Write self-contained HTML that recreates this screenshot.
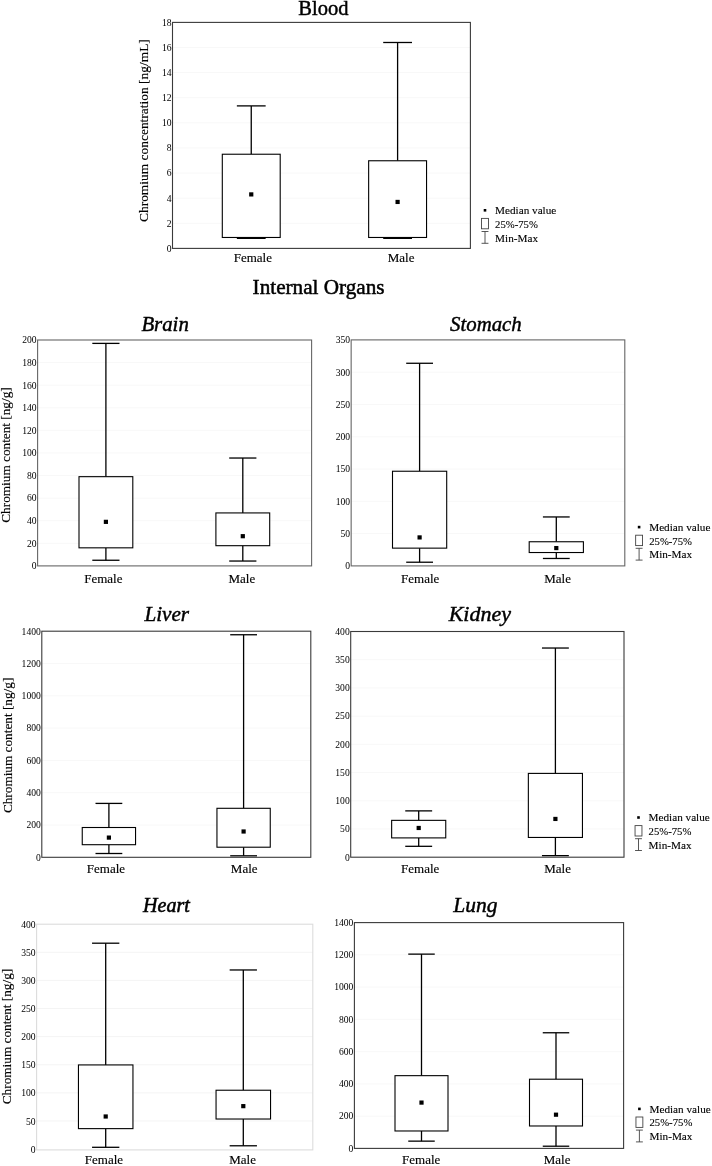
<!DOCTYPE html>
<html lang="en">
<head>
<meta charset="utf-8">
<title>Chromium in blood and internal organs</title>
<style>
html,body{margin:0;padding:0;background:#fff;}
svg{display:block;}
text{font-family:"Liberation Serif", serif;fill:#000;}
.tk{font-size:9.6px;text-anchor:end;}
.cat{font-size:13px;text-anchor:middle;stroke:#000;stroke-width:0.15px;}
.lg{font-size:11.2px;stroke:#000;stroke-width:0.12px;}
.yl{text-anchor:middle;stroke:#000;stroke-width:0.15px;}
.tt{text-anchor:middle;}
</style>
</head>
<body>
<svg width="712" height="1166" viewBox="0 0 712 1166">
<rect x="0" y="0" width="712" height="1166" fill="#fff"/>
<g id="blood">
<text class="tt" x="323.4" y="14.8" font-size="20.5" font-style="normal" stroke="#000" stroke-width="0.45">Blood</text>
<line x1="172.5" x2="470.4" y1="223.29" y2="223.29" stroke="#f8f8f8" stroke-width="1"/>
<line x1="172.5" x2="470.4" y1="198.18" y2="198.18" stroke="#f8f8f8" stroke-width="1"/>
<line x1="172.5" x2="470.4" y1="173.07" y2="173.07" stroke="#f8f8f8" stroke-width="1"/>
<line x1="172.5" x2="470.4" y1="147.96" y2="147.96" stroke="#f8f8f8" stroke-width="1"/>
<line x1="172.5" x2="470.4" y1="122.84" y2="122.84" stroke="#f8f8f8" stroke-width="1"/>
<line x1="172.5" x2="470.4" y1="97.73" y2="97.73" stroke="#f8f8f8" stroke-width="1"/>
<line x1="172.5" x2="470.4" y1="72.62" y2="72.62" stroke="#f8f8f8" stroke-width="1"/>
<line x1="172.5" x2="470.4" y1="47.51" y2="47.51" stroke="#f8f8f8" stroke-width="1"/>
<rect x="172.5" y="22.4" width="297.9" height="226" fill="none" stroke="#3a3a3a" stroke-width="1.1"/>
<text class="tk" x="171.5" y="251.75">0</text>
<text class="tk" x="171.5" y="226.64">2</text>
<text class="tk" x="171.5" y="201.53">4</text>
<text class="tk" x="171.5" y="176.42">6</text>
<text class="tk" x="171.5" y="151.31">8</text>
<text class="tk" x="171.5" y="126.19">10</text>
<text class="tk" x="171.5" y="101.08">12</text>
<text class="tk" x="171.5" y="75.97">14</text>
<text class="tk" x="171.5" y="50.86">16</text>
<text class="tk" x="171.5" y="25.75">18</text>
<text class="yl" font-size="13.45" transform="translate(148 130.6) rotate(-90)">Chromium concentration [ng/mL]</text>
<g stroke="#000" stroke-width="1.3" fill="none">
<line x1="251.25" x2="251.25" y1="105.89" y2="154.23"/>
<line x1="251.25" x2="251.25" y1="237.48" y2="238.36"/>
<line x1="236.85" x2="265.65" y1="105.89" y2="105.89"/>
<line x1="236.85" x2="265.65" y1="238.36" y2="238.36"/>
<rect x="222.3" y="154.23" width="57.9" height="83.24" fill="#fff" stroke-width="1.1"/>
</g>
<rect x="249.15" y="192.31" width="4.2" height="4.2" fill="#000"/>
<text class="cat" x="252.8" y="261.9">Female</text>
<g stroke="#000" stroke-width="1.3" fill="none">
<line x1="397.6" x2="397.6" y1="42.49" y2="160.76"/>
<line x1="397.6" x2="397.6" y1="237.48" y2="238.36"/>
<line x1="383.2" x2="412" y1="42.49" y2="42.49"/>
<line x1="383.2" x2="412" y1="238.36" y2="238.36"/>
<rect x="368.65" y="160.76" width="57.9" height="76.71" fill="#fff" stroke-width="1.1"/>
</g>
<rect x="395.5" y="199.84" width="4.2" height="4.2" fill="#000"/>
<text class="cat" x="401.1" y="261.9">Male</text>
<g class="legend">
<rect x="483.7" y="209" width="2.6" height="2.6" fill="#000"/>
<rect x="481.55" y="218.4" width="6.9" height="10.4" fill="#fff" stroke="#444" stroke-width="0.9"/>
<path d="M481.55 231.5h6.9M481.55 243.3h6.9M485 231.5v11.8" fill="none" stroke="#444" stroke-width="0.9"/>
<text class="lg" x="495.1" y="213.9">Median value</text>
<text class="lg" x="495.1" y="227.8" textLength="42.8" lengthAdjust="spacingAndGlyphs">25%-75%</text>
<text class="lg" x="495.1" y="241.5">Min-Max</text>
</g>
</g>
<g id="brain">
<text class="tt" x="165.1" y="330.5" font-size="20.8" font-style="italic" stroke="#000" stroke-width="0.45">Brain</text>
<line x1="37.6" x2="311.6" y1="543.31" y2="543.31" stroke="#f8f8f8" stroke-width="1"/>
<line x1="37.6" x2="311.6" y1="520.72" y2="520.72" stroke="#f8f8f8" stroke-width="1"/>
<line x1="37.6" x2="311.6" y1="498.13" y2="498.13" stroke="#f8f8f8" stroke-width="1"/>
<line x1="37.6" x2="311.6" y1="475.54" y2="475.54" stroke="#f8f8f8" stroke-width="1"/>
<line x1="37.6" x2="311.6" y1="452.95" y2="452.95" stroke="#f8f8f8" stroke-width="1"/>
<line x1="37.6" x2="311.6" y1="430.36" y2="430.36" stroke="#f8f8f8" stroke-width="1"/>
<line x1="37.6" x2="311.6" y1="407.77" y2="407.77" stroke="#f8f8f8" stroke-width="1"/>
<line x1="37.6" x2="311.6" y1="385.18" y2="385.18" stroke="#f8f8f8" stroke-width="1"/>
<line x1="37.6" x2="311.6" y1="362.59" y2="362.59" stroke="#f8f8f8" stroke-width="1"/>
<rect x="37.6" y="340" width="274" height="225.9" fill="none" stroke="#666" stroke-width="1.1"/>
<text class="tk" x="36.6" y="569.25">0</text>
<text class="tk" x="36.6" y="546.66">20</text>
<text class="tk" x="36.6" y="524.07">40</text>
<text class="tk" x="36.6" y="501.48">60</text>
<text class="tk" x="36.6" y="478.89">80</text>
<text class="tk" x="36.6" y="456.3">100</text>
<text class="tk" x="36.6" y="433.71">120</text>
<text class="tk" x="36.6" y="411.12">140</text>
<text class="tk" x="36.6" y="388.53">160</text>
<text class="tk" x="36.6" y="365.94">180</text>
<text class="tk" x="36.6" y="343.35">200</text>
<text class="yl" font-size="13.25" transform="translate(10 455) rotate(-90)">Chromium content [ng/g]</text>
<g stroke="#000" stroke-width="1.3" fill="none">
<line x1="105.9" x2="105.9" y1="343.39" y2="476.67"/>
<line x1="105.9" x2="105.9" y1="547.83" y2="560.25"/>
<line x1="92.3" x2="119.5" y1="343.39" y2="343.39"/>
<line x1="92.3" x2="119.5" y1="560.25" y2="560.25"/>
<rect x="79" y="476.67" width="53.8" height="71.16" fill="#fff" stroke-width="1.1"/>
</g>
<rect x="103.8" y="519.75" width="4.2" height="4.2" fill="#000"/>
<text class="cat" x="103.3" y="582.7">Female</text>
<g stroke="#000" stroke-width="1.3" fill="none">
<line x1="242.8" x2="242.8" y1="458.03" y2="512.93"/>
<line x1="242.8" x2="242.8" y1="545.68" y2="561.04"/>
<line x1="229.2" x2="256.4" y1="458.03" y2="458.03"/>
<line x1="229.2" x2="256.4" y1="561.04" y2="561.04"/>
<rect x="215.9" y="512.93" width="53.8" height="32.76" fill="#fff" stroke-width="1.1"/>
</g>
<rect x="240.7" y="534.09" width="4.2" height="4.2" fill="#000"/>
<text class="cat" x="241.9" y="582.7">Male</text>
</g>
<g id="stomach">
<text class="tt" x="485.9" y="330.5" font-size="20.8" font-style="italic" stroke="#000" stroke-width="0.45">Stomach</text>
<line x1="351.15" x2="624.8" y1="533.61" y2="533.61" stroke="#f8f8f8" stroke-width="1"/>
<line x1="351.15" x2="624.8" y1="501.33" y2="501.33" stroke="#f8f8f8" stroke-width="1"/>
<line x1="351.15" x2="624.8" y1="469.04" y2="469.04" stroke="#f8f8f8" stroke-width="1"/>
<line x1="351.15" x2="624.8" y1="436.76" y2="436.76" stroke="#f8f8f8" stroke-width="1"/>
<line x1="351.15" x2="624.8" y1="404.47" y2="404.47" stroke="#f8f8f8" stroke-width="1"/>
<line x1="351.15" x2="624.8" y1="372.19" y2="372.19" stroke="#f8f8f8" stroke-width="1"/>
<rect x="351.15" y="339.9" width="273.65" height="226" fill="none" stroke="#666" stroke-width="1.1"/>
<text class="tk" x="350.15" y="569.25">0</text>
<text class="tk" x="350.15" y="536.96">50</text>
<text class="tk" x="350.15" y="504.68">100</text>
<text class="tk" x="350.15" y="472.39">150</text>
<text class="tk" x="350.15" y="440.11">200</text>
<text class="tk" x="350.15" y="407.82">250</text>
<text class="tk" x="350.15" y="375.54">300</text>
<text class="tk" x="350.15" y="343.25">350</text>
<g stroke="#000" stroke-width="1.3" fill="none">
<line x1="419.6" x2="419.6" y1="363.27" y2="471.24"/>
<line x1="419.6" x2="419.6" y1="548.14" y2="562.22"/>
<line x1="406.2" x2="433" y1="363.27" y2="363.27"/>
<line x1="406.2" x2="433" y1="562.22" y2="562.22"/>
<rect x="392.5" y="471.24" width="54.2" height="76.9" fill="#fff" stroke-width="1.1"/>
</g>
<rect x="417.5" y="535.32" width="4.2" height="4.2" fill="#000"/>
<text class="cat" x="420.2" y="582.6">Female</text>
<g stroke="#000" stroke-width="1.3" fill="none">
<line x1="556.3" x2="556.3" y1="516.95" y2="541.75"/>
<line x1="556.3" x2="556.3" y1="552.53" y2="558.47"/>
<line x1="542.9" x2="569.7" y1="516.95" y2="516.95"/>
<line x1="542.9" x2="569.7" y1="558.47" y2="558.47"/>
<rect x="529.2" y="541.75" width="54.2" height="10.78" fill="#fff" stroke-width="1.1"/>
</g>
<rect x="554.2" y="545.98" width="4.2" height="4.2" fill="#000"/>
<text class="cat" x="557.6" y="582.6">Male</text>
<g class="legend">
<rect x="637.8" y="525.8" width="2.6" height="2.6" fill="#000"/>
<rect x="635.65" y="535.2" width="6.9" height="10.4" fill="#fff" stroke="#444" stroke-width="0.9"/>
<path d="M635.65 548.3h6.9M635.65 560.1h6.9M639.1 548.3v11.8" fill="none" stroke="#444" stroke-width="0.9"/>
<text class="lg" x="649.2" y="530.7">Median value</text>
<text class="lg" x="649.2" y="544.6" textLength="42.8" lengthAdjust="spacingAndGlyphs">25%-75%</text>
<text class="lg" x="649.2" y="558.3">Min-Max</text>
</g>
</g>
<g id="liver">
<text class="tt" x="166.75" y="621.3" font-size="21.2" font-style="italic" stroke="#000" stroke-width="0.45">Liver</text>
<line x1="41.8" x2="310.8" y1="825" y2="825" stroke="#f8f8f8" stroke-width="1"/>
<line x1="41.8" x2="310.8" y1="792.7" y2="792.7" stroke="#f8f8f8" stroke-width="1"/>
<line x1="41.8" x2="310.8" y1="760.4" y2="760.4" stroke="#f8f8f8" stroke-width="1"/>
<line x1="41.8" x2="310.8" y1="728.1" y2="728.1" stroke="#f8f8f8" stroke-width="1"/>
<line x1="41.8" x2="310.8" y1="695.8" y2="695.8" stroke="#f8f8f8" stroke-width="1"/>
<line x1="41.8" x2="310.8" y1="663.5" y2="663.5" stroke="#f8f8f8" stroke-width="1"/>
<rect x="41.8" y="631.2" width="269" height="226.1" fill="none" stroke="#3a3a3a" stroke-width="1.1"/>
<text class="tk" x="40.8" y="860.65">0</text>
<text class="tk" x="40.8" y="828.35">200</text>
<text class="tk" x="40.8" y="796.05">400</text>
<text class="tk" x="40.8" y="763.75">600</text>
<text class="tk" x="40.8" y="731.45">800</text>
<text class="tk" x="40.8" y="699.15">1000</text>
<text class="tk" x="40.8" y="666.85">1200</text>
<text class="tk" x="40.8" y="634.55">1400</text>
<text class="yl" font-size="13.25" transform="translate(12.1 745.4) rotate(-90)">Chromium content [ng/g]</text>
<g stroke="#000" stroke-width="1.3" fill="none">
<line x1="108.9" x2="108.9" y1="803.41" y2="827.5"/>
<line x1="108.9" x2="108.9" y1="844.7" y2="853.5"/>
<line x1="95.5" x2="122.3" y1="803.41" y2="803.41"/>
<line x1="95.5" x2="122.3" y1="853.5" y2="853.5"/>
<rect x="82.25" y="827.5" width="53.3" height="17.2" fill="#fff" stroke-width="1.1"/>
</g>
<rect x="106.8" y="835.5" width="4.2" height="4.2" fill="#000"/>
<text class="cat" x="105.9" y="873.4">Female</text>
<g stroke="#000" stroke-width="1.3" fill="none">
<line x1="243.6" x2="243.6" y1="634.75" y2="808.3"/>
<line x1="243.6" x2="243.6" y1="847.21" y2="855.8"/>
<line x1="230.2" x2="257" y1="634.75" y2="634.75"/>
<line x1="230.2" x2="257" y1="855.8" y2="855.8"/>
<rect x="216.95" y="808.3" width="53.3" height="38.91" fill="#fff" stroke-width="1.1"/>
</g>
<rect x="241.5" y="829.39" width="4.2" height="4.2" fill="#000"/>
<text class="cat" x="244.2" y="873.4">Male</text>
</g>
<g id="kidney">
<text class="tt" x="479.85" y="621.4" font-size="22" font-style="italic" stroke="#000" stroke-width="0.45">Kidney</text>
<line x1="350.7" x2="624" y1="828.99" y2="828.99" stroke="#f8f8f8" stroke-width="1"/>
<line x1="350.7" x2="624" y1="800.78" y2="800.78" stroke="#f8f8f8" stroke-width="1"/>
<line x1="350.7" x2="624" y1="772.56" y2="772.56" stroke="#f8f8f8" stroke-width="1"/>
<line x1="350.7" x2="624" y1="744.35" y2="744.35" stroke="#f8f8f8" stroke-width="1"/>
<line x1="350.7" x2="624" y1="716.14" y2="716.14" stroke="#f8f8f8" stroke-width="1"/>
<line x1="350.7" x2="624" y1="687.92" y2="687.92" stroke="#f8f8f8" stroke-width="1"/>
<line x1="350.7" x2="624" y1="659.71" y2="659.71" stroke="#f8f8f8" stroke-width="1"/>
<rect x="350.7" y="631.5" width="273.3" height="225.7" fill="none" stroke="#3a3a3a" stroke-width="1.1"/>
<text class="tk" x="349.7" y="860.55">0</text>
<text class="tk" x="349.7" y="832.34">50</text>
<text class="tk" x="349.7" y="804.13">100</text>
<text class="tk" x="349.7" y="775.91">150</text>
<text class="tk" x="349.7" y="747.7">200</text>
<text class="tk" x="349.7" y="719.49">250</text>
<text class="tk" x="349.7" y="691.27">300</text>
<text class="tk" x="349.7" y="663.06">350</text>
<text class="tk" x="349.7" y="634.85">400</text>
<g stroke="#000" stroke-width="1.3" fill="none">
<line x1="418.7" x2="418.7" y1="810.88" y2="820.35"/>
<line x1="418.7" x2="418.7" y1="837.9" y2="846.31"/>
<line x1="405.25" x2="432.15" y1="810.88" y2="810.88"/>
<line x1="405.25" x2="432.15" y1="846.31" y2="846.31"/>
<rect x="391.65" y="820.35" width="54.1" height="17.55" fill="#fff" stroke-width="1.1"/>
</g>
<rect x="416.6" y="825.87" width="4.2" height="4.2" fill="#000"/>
<text class="cat" x="420.2" y="873.4">Female</text>
<g stroke="#000" stroke-width="1.3" fill="none">
<line x1="555.4" x2="555.4" y1="648.03" y2="773.41"/>
<line x1="555.4" x2="555.4" y1="837.45" y2="855.62"/>
<line x1="541.95" x2="568.85" y1="648.03" y2="648.03"/>
<line x1="541.95" x2="568.85" y1="855.62" y2="855.62"/>
<rect x="528.35" y="773.41" width="54.1" height="64.04" fill="#fff" stroke-width="1.1"/>
</g>
<rect x="553.3" y="816.84" width="4.2" height="4.2" fill="#000"/>
<text class="cat" x="557.6" y="873.4">Male</text>
<g class="legend">
<rect x="637.2" y="816.2" width="2.6" height="2.6" fill="#000"/>
<rect x="635.05" y="825.6" width="6.9" height="10.4" fill="#fff" stroke="#444" stroke-width="0.9"/>
<path d="M635.05 838.7h6.9M635.05 850.5h6.9M638.5 838.7v11.8" fill="none" stroke="#444" stroke-width="0.9"/>
<text class="lg" x="648.6" y="821.1">Median value</text>
<text class="lg" x="648.6" y="835" textLength="42.8" lengthAdjust="spacingAndGlyphs">25%-75%</text>
<text class="lg" x="648.6" y="848.7">Min-Max</text>
</g>
</g>
<g id="heart">
<text class="tt" x="166.4" y="912.1" font-size="20" font-style="italic" stroke="#000" stroke-width="0.55">Heart</text>
<line x1="36.6" x2="312.8" y1="1120.99" y2="1120.99" stroke="#f4f4f4" stroke-width="1"/>
<line x1="36.6" x2="312.8" y1="1092.88" y2="1092.88" stroke="#f4f4f4" stroke-width="1"/>
<line x1="36.6" x2="312.8" y1="1064.76" y2="1064.76" stroke="#f4f4f4" stroke-width="1"/>
<line x1="36.6" x2="312.8" y1="1036.65" y2="1036.65" stroke="#f4f4f4" stroke-width="1"/>
<line x1="36.6" x2="312.8" y1="1008.54" y2="1008.54" stroke="#f4f4f4" stroke-width="1"/>
<line x1="36.6" x2="312.8" y1="980.42" y2="980.42" stroke="#f4f4f4" stroke-width="1"/>
<line x1="36.6" x2="312.8" y1="952.31" y2="952.31" stroke="#f4f4f4" stroke-width="1"/>
<rect x="36.6" y="924.2" width="276.2" height="225.7" fill="none" stroke="#dcdcdc" stroke-width="1.1"/>
<text class="tk" x="35.6" y="1152.65">0</text>
<text class="tk" x="35.6" y="1124.54">50</text>
<text class="tk" x="35.6" y="1096.42">100</text>
<text class="tk" x="35.6" y="1068.31">150</text>
<text class="tk" x="35.6" y="1040.2">200</text>
<text class="tk" x="35.6" y="1012.09">250</text>
<text class="tk" x="35.6" y="983.98">300</text>
<text class="tk" x="35.6" y="955.86">350</text>
<text class="tk" x="35.6" y="927.75">400</text>
<text class="yl" font-size="13.25" transform="translate(10.65 1036.5) rotate(-90)">Chromium content [ng/g]</text>
<g stroke="#000" stroke-width="1.3" fill="none">
<line x1="105.7" x2="105.7" y1="943.2" y2="1064.93"/>
<line x1="105.7" x2="105.7" y1="1128.63" y2="1147.3"/>
<line x1="92.05" x2="119.35" y1="943.2" y2="943.2"/>
<line x1="92.05" x2="119.35" y1="1147.3" y2="1147.3"/>
<rect x="78.45" y="1064.93" width="54.5" height="63.7" fill="#fff" stroke-width="1.1"/>
</g>
<rect x="103.6" y="1114.39" width="4.2" height="4.2" fill="#000"/>
<text class="cat" x="103.9" y="1164.3">Female</text>
<g stroke="#000" stroke-width="1.3" fill="none">
<line x1="243.3" x2="243.3" y1="969.97" y2="1090.23"/>
<line x1="243.3" x2="243.3" y1="1119.02" y2="1145.78"/>
<line x1="229.65" x2="256.95" y1="969.97" y2="969.97"/>
<line x1="229.65" x2="256.95" y1="1145.78" y2="1145.78"/>
<rect x="216.05" y="1090.23" width="54.5" height="28.79" fill="#fff" stroke-width="1.1"/>
</g>
<rect x="241.2" y="1104.04" width="4.2" height="4.2" fill="#000"/>
<text class="cat" x="242.6" y="1164.3">Male</text>
</g>
<g id="lung">
<text class="tt" x="475.4" y="912.3" font-size="21.5" font-style="italic" stroke="#000" stroke-width="0.45">Lung</text>
<line x1="354.4" x2="623.6" y1="1116.14" y2="1116.14" stroke="#f8f8f8" stroke-width="1"/>
<line x1="354.4" x2="623.6" y1="1083.89" y2="1083.89" stroke="#f8f8f8" stroke-width="1"/>
<line x1="354.4" x2="623.6" y1="1051.63" y2="1051.63" stroke="#f8f8f8" stroke-width="1"/>
<line x1="354.4" x2="623.6" y1="1019.37" y2="1019.37" stroke="#f8f8f8" stroke-width="1"/>
<line x1="354.4" x2="623.6" y1="987.11" y2="987.11" stroke="#f8f8f8" stroke-width="1"/>
<line x1="354.4" x2="623.6" y1="954.86" y2="954.86" stroke="#f8f8f8" stroke-width="1"/>
<rect x="354.4" y="922.6" width="269.2" height="225.8" fill="none" stroke="#3a3a3a" stroke-width="1.1"/>
<text class="tk" x="353.4" y="1151.75">0</text>
<text class="tk" x="353.4" y="1119.49">200</text>
<text class="tk" x="353.4" y="1087.24">400</text>
<text class="tk" x="353.4" y="1054.98">600</text>
<text class="tk" x="353.4" y="1022.72">800</text>
<text class="tk" x="353.4" y="990.46">1000</text>
<text class="tk" x="353.4" y="958.21">1200</text>
<text class="tk" x="353.4" y="925.95">1400</text>
<g stroke="#000" stroke-width="1.3" fill="none">
<line x1="421.5" x2="421.5" y1="954.13" y2="1075.66"/>
<line x1="421.5" x2="421.5" y1="1130.98" y2="1141.14"/>
<line x1="408.25" x2="434.75" y1="954.13" y2="954.13"/>
<line x1="408.25" x2="434.75" y1="1141.14" y2="1141.14"/>
<rect x="395" y="1075.66" width="53" height="55.32" fill="#fff" stroke-width="1.1"/>
</g>
<rect x="419.4" y="1100.49" width="4.2" height="4.2" fill="#000"/>
<text class="cat" x="421.2" y="1164.4">Female</text>
<g stroke="#000" stroke-width="1.3" fill="none">
<line x1="556" x2="556" y1="1032.76" y2="1079.21"/>
<line x1="556" x2="556" y1="1125.98" y2="1146.21"/>
<line x1="542.75" x2="569.25" y1="1032.76" y2="1032.76"/>
<line x1="542.75" x2="569.25" y1="1146.21" y2="1146.21"/>
<rect x="529.5" y="1079.21" width="53" height="46.77" fill="#fff" stroke-width="1.1"/>
</g>
<rect x="553.9" y="1112.59" width="4.2" height="4.2" fill="#000"/>
<text class="cat" x="557.05" y="1164.4">Male</text>
<g class="legend">
<rect x="638.1" y="1107.6" width="2.6" height="2.6" fill="#000"/>
<rect x="635.95" y="1117" width="6.9" height="10.4" fill="#fff" stroke="#444" stroke-width="0.9"/>
<path d="M635.95 1130.1h6.9M635.95 1141.9h6.9M639.4 1130.1v11.8" fill="none" stroke="#444" stroke-width="0.9"/>
<text class="lg" x="649.5" y="1112.5">Median value</text>
<text class="lg" x="649.5" y="1126.4" textLength="42.8" lengthAdjust="spacingAndGlyphs">25%-75%</text>
<text class="lg" x="649.5" y="1140.1">Min-Max</text>
</g>
</g>
<text class="tt" x="318.6" y="293.9" font-size="21.2" stroke="#000" stroke-width="0.5">Internal Organs</text>
</svg>
</body>
</html>
